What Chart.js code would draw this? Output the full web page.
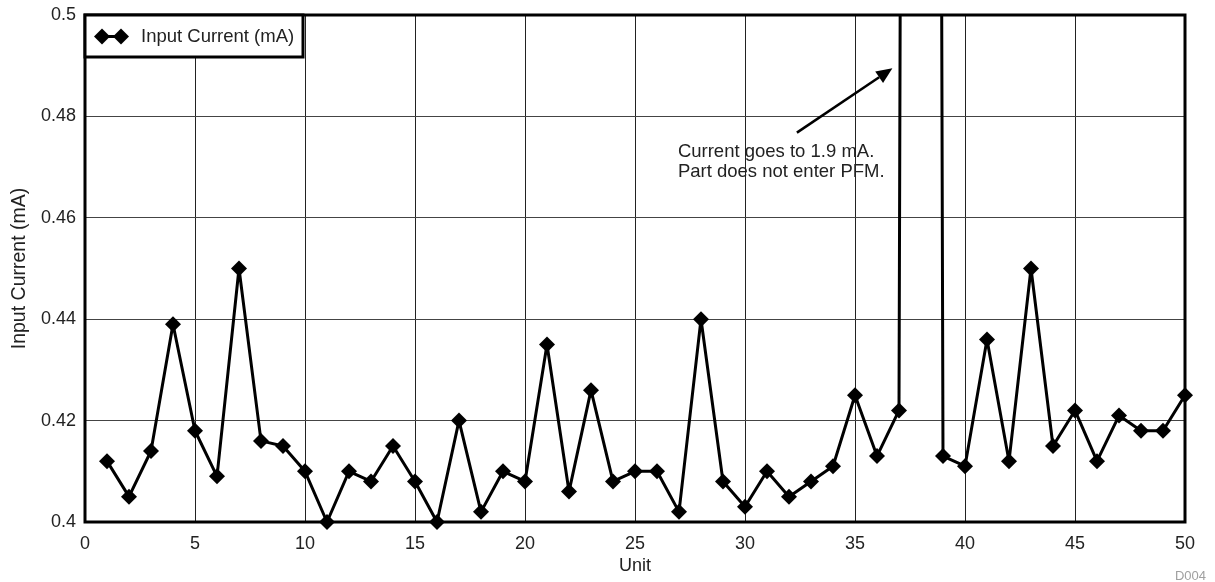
<!DOCTYPE html>
<html>
<head>
<meta charset="utf-8">
<script src="https://cdn.jsdelivr.net/npm/chart.js@4/dist/chart.umd.min.js"></script>
<style>
html,body{margin:0;padding:0;background:#fff;}
canvas{display:block;}
</style>
</head>
<body>
<canvas id="c" width="1215" height="582"></canvas>
<script>
const units = [1,2,3,4,5,6,7,8,9,10,11,12,13,14,15,16,17,18,19,20,21,22,23,24,25,26,27,28,29,30,31,32,33,34,35,36,37,38,39,40,41,42,43,44,45,46,47,48,49,50];
const inputCurrent = [0.412,0.405,0.414,0.439,0.418,0.409,0.450,0.416,0.415,0.410,0.400,0.410,0.408,0.415,0.408,0.400,0.420,0.402,0.410,0.408,0.435,0.406,0.426,0.408,0.410,0.410,0.402,0.440,0.408,0.403,0.410,0.405,0.408,0.411,0.425,0.413,0.422,1.9,0.413,0.411,0.436,0.412,0.450,0.415,0.422,0.412,0.421,0.418,0.418,0.425];
const xTicks = [0,5,10,15,20,25,30,35,40,45,50];
const yTicks = [0.4,0.42,0.44,0.46,0.48,0.5];
const seriesName = 'Input Current (mA)';
const noteLines = ['Current goes to 1.9 mA.','Part does not enter PFM.'];
const noteAnchor = {x: 26.95, y: 0.4730};
const arrowTail = {x: 32.36, y: 0.4768};
const arrowTip = {x: 36.7, y: 0.4895};

const FONT = 'Arial, "Liberation Sans", sans-serif';

const decor = {
  id: 'decor',
  afterDraw(chart){
    const ctx = chart.ctx, a = chart.chartArea, xs = chart.scales.x, ys = chart.scales.y;
    ctx.save();
    // plot border
    ctx.strokeStyle = '#000';
    ctx.lineWidth = 3;
    ctx.strokeRect(a.left, a.top, a.right - a.left, a.bottom - a.top);
    // legend box
    const lx = a.left, ly = a.top, lw = 218, lh = 42;
    ctx.fillStyle = '#fff';
    ctx.fillRect(lx, ly, lw, lh);
    ctx.lineWidth = 3;
    ctx.strokeRect(lx, ly, lw, lh);
    const cy = ly + lh/2 + 0.5;
    ctx.lineWidth = 3;
    ctx.beginPath(); ctx.moveTo(lx+17, cy); ctx.lineTo(lx+36, cy); ctx.stroke();
    ctx.fillStyle = '#000';
    [lx+17, lx+36].forEach(px => {
      ctx.beginPath();
      ctx.moveTo(px, cy-8); ctx.lineTo(px+8, cy); ctx.lineTo(px, cy+8); ctx.lineTo(px-8, cy); ctx.closePath(); ctx.fill();
    });
    ctx.fillStyle = '#222';
    ctx.font = '18.5px ' + FONT;
    ctx.textBaseline = 'middle';
    ctx.textAlign = 'left';
    ctx.fillText(seriesName, lx + 56, cy);
    // annotation
    const tx = xs.getPixelForValue(noteAnchor.x), ty = ys.getPixelForValue(noteAnchor.y);
    noteLines.forEach((t,i) => ctx.fillText(t, tx, ty + i*20));
    const x0 = xs.getPixelForValue(arrowTail.x), y0 = ys.getPixelForValue(arrowTail.y);
    const x1 = xs.getPixelForValue(arrowTip.x), y1 = ys.getPixelForValue(arrowTip.y);
    const ang = Math.atan2(y1-y0, x1-x0);
    const hl = 16, hw = 7;
    const bx = x1 - hl*Math.cos(ang), by = y1 - hl*Math.sin(ang);
    ctx.strokeStyle = '#000'; ctx.lineWidth = 2.5;
    ctx.beginPath(); ctx.moveTo(x0,y0); ctx.lineTo(bx,by); ctx.stroke();
    ctx.fillStyle = '#000';
    ctx.beginPath();
    ctx.moveTo(x1,y1);
    ctx.lineTo(bx + hw*Math.sin(ang), by - hw*Math.cos(ang));
    ctx.lineTo(bx - hw*Math.sin(ang), by + hw*Math.cos(ang));
    ctx.closePath(); ctx.fill();
    // figure id
    ctx.fillStyle = '#a0a0a0';
    ctx.font = '13px ' + FONT;
    ctx.textAlign = 'right';
    ctx.textBaseline = 'alphabetic';
    ctx.fillText('D004', 1206, 580);
    ctx.restore();
  }
};

new Chart(document.getElementById('c'), {
  type: 'scatter',
  data: {
    datasets: [{
      label: seriesName,
      data: units.map((u,i) => ({x: u, y: inputCurrent[i]})),
      showLine: true,
      borderColor: '#000',
      backgroundColor: '#000',
      borderWidth: 3,
      borderJoinStyle: 'round',
      pointStyle: 'rectRot',
      pointRadius: 8,
      pointHoverRadius: 8,
      pointBorderWidth: 0,
      tension: 0,
      clip: {left: 12, right: 12, top: 0, bottom: 12}
    }]
  },
  plugins: [decor],
  options: {
    responsive: false,
    animation: false,
    events: [],
    layout: {padding: {top: 15, right: 30, left: 0, bottom: 0}},
    plugins: {legend: {display: false}, tooltip: {enabled: false}},
    scales: {
      x: {
        type: 'linear', min: 0, max: 50,
        afterBuildTicks: s => { s.ticks = xTicks.map(v => ({value: v})); },
        afterFit: s => { s.height = 60; s.paddingLeft = 0; s.paddingRight = 0; },
        grid: {color: '#222', lineWidth: 1, drawTicks: false},
        border: {display: false},
        ticks: {padding: 11, color: '#222', font: {size: 18, family: FONT}, maxRotation: 0, callback: v => String(v)},
        title: {display: true, text: 'Unit', color: '#222', font: {size: 18, family: FONT}, padding: {top: 0, bottom: 5}}
      },
      y: {
        type: 'linear', min: 0.4, max: 0.5,
        afterBuildTicks: s => { s.ticks = yTicks.map(v => ({value: v})); },
        afterFit: s => { s.width = 85; s.paddingTop = 0; s.paddingBottom = 0; },
        grid: {color: '#444', lineWidth: 1, drawTicks: false},
        border: {display: false},
        ticks: {padding: 9, color: '#222', font: {size: 18, family: FONT}, callback: v => String(Math.round(v*100)/100)},
        title: {display: true, text: 'Input Current (mA)', color: '#222', font: {size: 19.5, family: FONT}, padding: {top: 8, bottom: 0}}
      }
    }
  }
});
</script>
</body>
</html>
